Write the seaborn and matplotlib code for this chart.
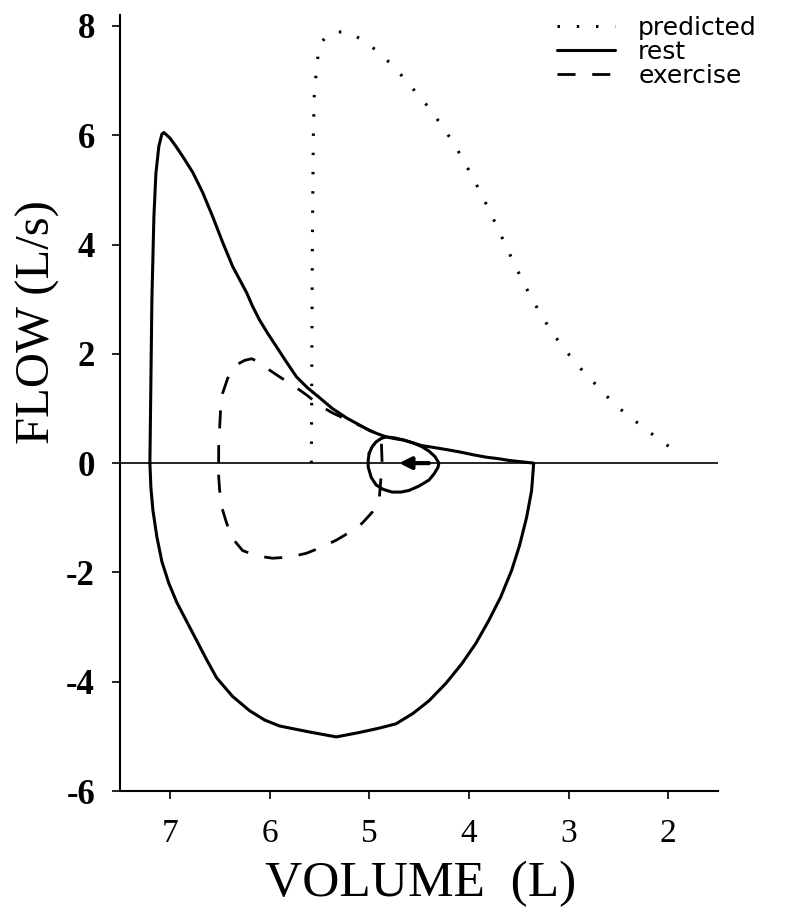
import numpy as np
import pandas as pd
import matplotlib
matplotlib.use("Agg")
import matplotlib.pyplot as plt
import seaborn as sns

# ---------------- data ----------------
pred_vol = [5.58, 5.57, 5.56, 5.55, 5.53, 5.51, 5.47, 5.42, 5.33, 5.22, 5.04, 4.91, 4.76, 4.63,
            4.38, 4.15, 3.96, 3.79, 3.54, 3.37, 3.17, 2.93, 2.53, 2.22, 1.90]
pred_flow = [0.0, 4.0, 6.0, 6.8, 7.16, 7.52, 7.72, 7.83, 7.89, 7.89, 7.72, 7.52, 7.27, 7.00,
             6.46, 5.85, 5.23, 4.61, 3.63, 3.01, 2.40, 1.83, 1.06, 0.61, 0.18]

rest_vol = [7.20, 7.19, 7.18, 7.16, 7.14, 7.11, 7.08, 7.06, 7.00, 6.94, 6.87, 6.77, 6.67,
            6.57, 6.47, 6.42, 6.37, 6.30, 6.23, 6.17, 6.10, 6.02, 5.93, 5.83, 5.73, 5.62,
            5.50, 5.37, 5.23, 5.12, 5.00, 4.92, 4.83, 4.75, 4.65, 4.56, 4.47, 4.33, 4.20,
            4.08, 3.95, 3.83, 3.70, 3.60, 3.50, 3.45, 3.35,
            3.35, 3.37, 3.42, 3.49, 3.57, 3.68, 3.80, 3.93, 4.07, 4.23, 4.40, 4.56, 4.73,
            4.90, 5.10, 5.33, 5.60, 5.90, 6.05, 6.20, 6.37, 6.53, 6.63, 6.73, 6.83, 6.93,
            7.01, 7.08, 7.13, 7.17, 7.19, 7.20]
rest_flow = [0.0, 1.5, 3.0, 4.5, 5.3, 5.8, 6.02, 6.05, 5.95, 5.80, 5.61, 5.32, 4.95,
             4.51, 4.04, 3.82, 3.60, 3.36, 3.12, 2.87, 2.62, 2.38, 2.13, 1.85, 1.58, 1.38,
             1.20, 1.00, 0.83, 0.72, 0.60, 0.54, 0.48, 0.45, 0.42, 0.37, 0.32, 0.28, 0.24,
             0.20, 0.15, 0.11, 0.08, 0.05, 0.03, 0.02, 0.0,
             -0.02, -0.50, -0.99, -1.50, -1.96, -2.45, -2.88, -3.30, -3.67, -4.03, -4.35, -4.58, -4.77,
             -4.85, -4.93, -5.01, -4.92, -4.81, -4.70, -4.53, -4.27, -3.93, -3.60, -3.25, -2.90, -2.55,
             -2.20, -1.80, -1.35, -0.86, -0.45, 0.0]

tidal_vol = [5.00, 4.97, 4.93, 4.88, 4.83, 4.74, 4.65, 4.56, 4.47, 4.40, 4.34, 4.30,
             4.31, 4.35, 4.40, 4.50, 4.60, 4.68, 4.77, 4.86, 4.93, 4.98, 5.01, 5.01, 5.00]
tidal_flow = [0.18, 0.30, 0.39, 0.45, 0.48, 0.46, 0.42, 0.37, 0.30, 0.22, 0.12, 0.0,
              -0.08, -0.20, -0.31, -0.42, -0.50, -0.53, -0.53, -0.48, -0.40, -0.26, -0.07, 0.05, 0.18]

ex_vol = [6.51, 6.51, 6.50, 6.49, 6.47, 6.42, 6.33, 6.25, 6.18, 6.10, 6.03, 5.90, 5.77,
          5.63, 5.50, 5.37, 5.23, 5.05, 4.88, 4.87,
          4.90, 4.97, 5.07, 5.20, 5.33, 5.48, 5.63, 5.80, 5.97, 6.12, 6.27, 6.37, 6.43,
          6.48, 6.50, 6.51, 6.51]
ex_flow = [0.0, 0.35, 0.66, 1.00, 1.28, 1.55, 1.80, 1.88, 1.91, 1.85, 1.74, 1.58, 1.43,
           1.25, 1.06, 0.92, 0.80, 0.65, 0.50, 0.0,
           -0.68, -0.90, -1.10, -1.27, -1.41, -1.54, -1.65, -1.72, -1.74, -1.70, -1.60, -1.38, -1.10,
           -0.80, -0.50, -0.25, 0.0]

arrow_from = (4.40, 0.0)
arrow_to = (4.70, 0.0)

xticks = [7, 6, 5, 4, 3, 2]
xtick_labels = ["7", "6", "5", "4", "3", "2"]
yticks = [8, 6, 4, 2, 0, -2, -4, -6]
ytick_labels = ["8", "6", "4", "2", "0", "-2", "-4", "-6"]

# ---------------- style ----------------
sns.set_style("ticks")
plt.rcParams["font.family"] = ["Liberation Serif", "DejaVu Serif"]
plt.rcParams["axes.linewidth"] = 1.5
plt.rcParams["xtick.major.width"] = 1.2
plt.rcParams["ytick.major.width"] = 1.2
for k in ["text.color", "axes.labelcolor", "xtick.color", "ytick.color", "axes.edgecolor"]:
    plt.rcParams[k] = "black"

fig = plt.figure(figsize=(7.98, 9.22), dpi=100)
ax = fig.add_axes([120 / 798, 1 - 791 / 922, 598 / 798, 776 / 922])

ax.axhline(0, color="black", lw=1.2, zorder=1)

df_pred = pd.DataFrame({"vol": pred_vol, "flow": pred_flow})
df_rest = pd.DataFrame({"vol": rest_vol, "flow": rest_flow})
df_tidal = pd.DataFrame({"vol": tidal_vol, "flow": tidal_flow})
df_ex = pd.DataFrame({"vol": ex_vol, "flow": ex_flow})

sns.lineplot(data=df_pred, x="vol", y="flow", sort=False, estimator=None, ax=ax,
             color="black", lw=2.2, linestyle=(0, (0.8, 5.5)), dash_capstyle="butt",
             label="predicted")
sns.lineplot(data=df_rest, x="vol", y="flow", sort=False, estimator=None, ax=ax,
             color="black", lw=2.2, label="rest")
sns.lineplot(data=df_tidal, x="vol", y="flow", sort=False, estimator=None, ax=ax,
             color="black", lw=2.2)
sns.lineplot(data=df_ex, x="vol", y="flow", sort=False, estimator=None, ax=ax,
             color="black", lw=2.0, linestyle=(0, (6.5, 6)), label="exercise")

ax.annotate("", xy=arrow_to, xytext=arrow_from,
            arrowprops=dict(arrowstyle="-|>,head_length=0.7,head_width=0.35",
                            lw=3, color="black", shrinkA=0, shrinkB=0))

ax.set_xlim(7.5, 1.5)
ax.set_ylim(-6, 8.2)
ax.set_xticks(xticks, labels=xtick_labels)
ax.set_yticks(yticks, labels=ytick_labels)
ax.tick_params(axis="x", direction="out", length=6, pad=14, labelsize=24)
ax.tick_params(axis="y", direction="out", length=6, pad=12, labelsize=25)
for t in ax.get_yticklabels():
    t.set_fontweight("bold")
sns.despine(ax=ax)

ax.set_xlabel("VOLUME  (L)", fontsize=37)
ax.set_ylabel("FLOW (L/s)", fontsize=35)
ax.xaxis.set_label_coords((421 - 120) / 598, (791 - 884) / 776)
ax.xaxis.label.set_va("center")
ax.yaxis.set_label_coords((38 - 120) / 598, (791 - 322) / 776)
ax.yaxis.label.set_va("center")

handles, labels = ax.get_legend_handles_labels()
if ax.legend_ is not None:
    ax.legend_.remove()
fig.legend(handles, labels, loc="upper left",
           bbox_to_anchor=(557 / 798, 1 - 16 / 922),
           frameon=False, prop={"family": ["DejaVu Sans"], "size": 18},
           handlelength=2.3, handletextpad=0.95, labelspacing=0.0,
           borderpad=0, borderaxespad=0, labelcolor="black")

fig.savefig("out.png", dpi=100)
